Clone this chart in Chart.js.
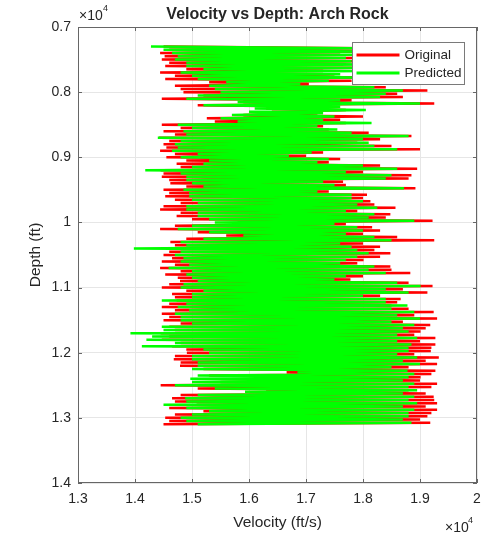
<!DOCTYPE html>
<html>
<head>
<meta charset="utf-8">
<title>Velocity vs Depth: Arch Rock</title>
<script src="https://cdn.jsdelivr.net/npm/chart.js@4.4.1/dist/chart.umd.min.js"></script>
<style>
  html, body { margin: 0; padding: 0; background: #fff; }
  #wrap { width: 500px; height: 538px; position: relative; }
</style>
</head>
<body>
<div id="wrap"><canvas id="velChart" width="500" height="538"></canvas></div>
<script>
// --- data ---
const seriesNames = ["Original", "Predicted"];

// sample depths (ft)
const depths = [
  7300, 7325, 7350, 7375, 7400, 7425, 7450, 7475,
  7500, 7525, 7550, 7575, 7600, 7625, 7650, 7675,
  7700, 7725, 7750, 7775, 7800, 7825, 7850, 7875,
  7900, 7925, 7950, 7975, 8000, 8025, 8050, 8075,
  8100, 8125, 8150, 8175, 8200, 8225, 8250, 8275,
  8300, 8325, 8350, 8375, 8400, 8425, 8450, 8475,
  8500, 8525, 8550, 8575, 8600, 8625, 8650, 8675,
  8700, 8725, 8750, 8775, 8800, 8825, 8850, 8875,
  8900, 8925, 8950, 8975, 9000, 9025, 9050, 9075,
  9100, 9125, 9150, 9175, 9200, 9225, 9250, 9275,
  9300, 9325, 9350, 9375, 9400, 9425, 9450, 9475,
  9500, 9525, 9550, 9575, 9600, 9625, 9650, 9675,
  9700, 9725, 9750, 9775, 9800, 9825, 9850, 9875,
  9900, 9925, 9950, 9975, 10000, 10025, 10050, 10075,
  10100, 10125, 10150, 10175, 10200, 10225, 10250, 10275,
  10300, 10325, 10350, 10375, 10400, 10425, 10450, 10475,
  10500, 10525, 10550, 10575, 10600, 10625, 10650, 10675,
  10700, 10725, 10750, 10775, 10800, 10825, 10850, 10875,
  10900, 10925, 10950, 10975, 11000, 11025, 11050, 11075,
  11100, 11125, 11150, 11175, 11200, 11225, 11250, 11275,
  11300, 11325, 11350, 11375, 11400, 11425, 11450, 11475,
  11500, 11525, 11550, 11575, 11600, 11625, 11650, 11675,
  11700, 11725, 11750, 11775, 11800, 11825, 11850, 11875,
  11900, 11925, 11950, 11975, 12000, 12025, 12050, 12075,
  12100, 12125, 12150, 12175, 12200, 12225, 12250, 12275,
  12300, 12325, 12350, 12375, 12400, 12425, 12450, 12475,
  12500, 12525, 12550, 12575, 12600, 12625, 12650, 12675,
  12700, 12725, 12750, 12775, 12800, 12825, 12850, 12875,
  12900, 12925, 12950, 12975, 13000, 13025, 13050, 13075,
  13100
];

// measured velocity (ft/s)
const originalVel = [
  14500, 18000, 14600, 18200, 14440, 17600, 14520, 17900,
  14470, 17900, 14600, 17650, 14530, 18100, 14900, 17300,
  14440, 17500, 14700, 18200, 14530, 17800, 15300, 17050,
  14700, 18400, 14800, 19130, 14850, 18600, 15200, 18700,
  14470, 17800, 15900, 19250, 15100, 17400, 16300, 17700,
  16400, 17200, 15900, 18000, 15260, 17600, 15400, 17700,
  14470, 17300, 14800, 17400, 14500, 18100, 14700, 18850,
  14420, 18300, 14600, 17900, 14500, 18500, 14550, 19000,
  14440, 17300, 14700, 17000, 14550, 17600, 14900, 17400,
  14730, 18300, 14800, 18950, 14450, 18000, 14500, 18850,
  14470, 18800, 14600, 17650, 14620, 17700, 14900, 18920,
  14500, 17400, 14600, 18070, 14530, 18000, 14700, 18130,
  14800, 18200, 14500, 18570, 14440, 17900, 14800, 18480,
  14730, 18400, 15000, 19220, 15800, 17700, 14700, 18160,
  14440, 18300, 15100, 18000, 15600, 18600, 14900, 19250,
  14620, 18000, 14700, 18300, 14620, 18200, 14600, 18480,
  14500, 18300, 14650, 18010, 14470, 17900, 14700, 18480,
  14440, 18500, 14800, 18830, 14530, 18000, 14750, 17780,
  14790, 18800, 14600, 19220, 14470, 18700, 14900, 19130,
  14650, 18300, 14700, 18660, 14730, 18600, 14600, 18500,
  14470, 18800, 14700, 19240, 14470, 18900, 14600, 19300,
  14500, 18700, 14800, 19180, 14600, 19100, 14700, 19010,
  14450, 18900, 14600, 19270, 14470, 19000, 14800, 19270,
  14650, 19200, 14900, 19190, 14910, 18900, 14700, 19330,
  14680, 19100, 14800, 19300, 14790, 18800, 15200, 19270,
  16660, 19200, 15300, 19010, 16550, 19000, 15500, 19300,
  14450, 19200, 15100, 18800, 16300, 19100, 14800, 19240,
  14650, 19250, 14700, 19300, 15080, 19100, 14600, 19300,
  15200, 19200, 14700, 19130, 14530, 19000, 14600, 19180,
  14500
];

// model prediction (ft/s)
const predictedVel = [
  14280, 17900, 14500, 18000, 14650, 18000, 14750, 17700,
  14700, 17800, 14900, 18100, 14900, 17900, 15200, 18000,
  14800, 17600, 15000, 17950, 15100, 17400, 15600, 16900,
  15300, 18200, 15400, 18700, 15500, 18400, 15100, 18300,
  14900, 17600, 15800, 19000, 15200, 17600, 16100, 18050,
  16000, 17300, 15700, 17500, 15500, 17300, 15800, 18150,
  14750, 17200, 15000, 17550, 14850, 17800, 14900, 18800,
  14400, 18000, 14800, 18100, 14700, 18200, 14750, 18600,
  14650, 17100, 15100, 16700, 14800, 17400, 15300, 17200,
  15200, 18000, 15000, 18600, 14180, 17700, 14800, 18500,
  14900, 18400, 14900, 17300, 15000, 17500, 15200, 18720,
  14850, 17200, 14950, 17800, 14950, 17800, 15000, 18000,
  15100, 17900, 14900, 18250, 14900, 17700, 15100, 18200,
  15100, 18100, 15300, 18900, 15400, 17500, 15000, 17900,
  14750, 18000, 15300, 17700, 15900, 18200, 15200, 18500,
  14800, 17600, 14900, 17800, 13980, 17900, 14800, 18100,
  14700, 17900, 14850, 17700, 14800, 17600, 14950, 18200,
  14590, 18100, 15000, 18400, 14900, 17700, 15000, 17500,
  15100, 18600, 14850, 19010, 14800, 18400, 15200, 18800,
  15000, 18000, 15000, 18400, 14470, 18400, 14900, 18780,
  14750, 18500, 14950, 18900, 14700, 18600, 14800, 19000,
  14800, 18500, 15000, 18900, 14470, 18700, 14500, 18800,
  13920, 18600, 14300, 18950, 14200, 18600, 14700, 18850,
  14120, 18800, 15200, 18800, 15300, 18600, 15000, 18950,
  15000, 18700, 15100, 19000, 15100, 18500, 15000, 18780,
  16850, 18900, 15100, 18800, 14970, 18700, 15000, 18900,
  14700, 18800, 15400, 18950, 15930, 18700, 15100, 18900,
  14880, 18800, 14900, 18950, 14500, 18700, 14900, 18900,
  15300, 18800, 15000, 18800, 14800, 18700, 14900, 18850,
  15100
];

// axis ticks
const xTickValues = [13000, 14000, 15000, 16000, 17000, 18000, 19000, 20000];
const yTickValues = [7000, 8000, 9000, 10000, 11000, 12000, 13000, 14000];

const RED = "#ff0000";
const GREEN = "#00ff00";
const TEXT = "#262626";
const FONT = "'Liberation Sans', Arial, Helvetica, sans-serif";

function toPoints(vals) {
  return vals.map((v, i) => ({ x: v, y: depths[i] }));
}

// MATLAB style frame, title, axis labels, exponent marks and legend
const matlabFrame = {
  id: "matlabFrame",
  afterDraw(chart) {
    const { ctx, chartArea: a, scales } = chart;
    ctx.save();

    // box
    ctx.strokeStyle = "#666";
    ctx.lineWidth = 1;
    ctx.strokeRect(a.left + 0.5, a.top + 0.5, a.right - a.left - 1, a.bottom - a.top - 1);

    // inward tick marks on all four sides
    ctx.beginPath();
    xTickValues.forEach((v) => {
      const px = Math.round(scales.x.getPixelForValue(v)) + 0.5;
      ctx.moveTo(px, a.bottom); ctx.lineTo(px, a.bottom - 4);
      ctx.moveTo(px, a.top); ctx.lineTo(px, a.top + 4);
    });
    yTickValues.forEach((v) => {
      const py = Math.round(scales.y.getPixelForValue(v)) + 0.5;
      ctx.moveTo(a.left, py); ctx.lineTo(a.left + 4, py);
      ctx.moveTo(a.right, py); ctx.lineTo(a.right - 4, py);
    });
    ctx.stroke();

    ctx.fillStyle = TEXT;

    // title
    ctx.font = "bold 16px " + FONT;
    ctx.textAlign = "center";
    ctx.textBaseline = "alphabetic";
    ctx.fillText("Velocity vs Depth: Arch Rock", (a.left + a.right) / 2, 19);

    // axis titles
    ctx.font = "15.5px " + FONT;
    ctx.fillText("Velocity (ft/s)", (a.left + a.right) / 2, 527);
    ctx.save();
    ctx.translate(40, (a.top + a.bottom) / 2);
    ctx.rotate(-Math.PI / 2);
    ctx.fillText("Depth (ft)", 0, 0);
    ctx.restore();

    // x10^4 exponent labels
    ctx.textAlign = "left";
    ctx.font = "14px " + FONT;
    ctx.fillText("\u00d710", a.left + 1, 20);
    ctx.fillText("\u00d710", a.right - 32, 532);
    ctx.font = "9px " + FONT;
    ctx.fillText("4", a.left + 25, 11);
    ctx.fillText("4", a.right - 9, 523);

    // legend box
    const lx = a.right - 124.5, ly = a.top + 15.5, lw = 112, lh = 42;
    ctx.fillStyle = "#fff";
    ctx.fillRect(lx, ly, lw, lh);
    ctx.strokeStyle = "#7a7a7a";
    ctx.strokeRect(lx, ly, lw, lh);
    ctx.font = "13.5px " + FONT;
    ctx.textBaseline = "middle";
    [RED, GREEN].forEach((c, i) => {
      const yy = ly + 12.5 + i * 18;
      ctx.strokeStyle = c;
      ctx.lineWidth = 3;
      ctx.beginPath();
      ctx.moveTo(lx + 4, yy);
      ctx.lineTo(lx + 47, yy);
      ctx.stroke();
      ctx.fillStyle = TEXT;
      ctx.fillText(seriesNames[i], lx + 52, yy);
    });

    ctx.restore();
  },
};

const tickLabel = (v) => String(+(v / 10000).toFixed(1));

new Chart(document.getElementById("velChart"), {
  type: "scatter",
  data: {
    datasets: [
      {
        label: seriesNames[0],
        data: toPoints(originalVel),
        borderColor: RED,
        backgroundColor: RED,
        borderWidth: 2.5,
        showLine: true,
        pointRadius: 0,
        tension: 0,
        order: 1,
      },
      {
        label: seriesNames[1],
        data: toPoints(predictedVel),
        borderColor: GREEN,
        backgroundColor: GREEN,
        borderWidth: 2.5,
        showLine: true,
        pointRadius: 0,
        tension: 0,
        order: 0,
      },
    ],
  },
  options: {
    responsive: false,
    animation: false,
    devicePixelRatio: 1,
    layout: { padding: { top: 27, right: 23, left: 0, bottom: 0 } },
    plugins: {
      legend: { display: false },
      tooltip: { enabled: false },
      title: { display: false },
    },
    scales: {
      x: {
        type: "linear",
        min: 13000,
        max: 20000,
        afterBuildTicks: (s) => { s.ticks = xTickValues.map((v) => ({ value: v })); },
        afterFit: (s) => { s.height = 55; },
        grid: { color: "#e6e6e6", drawTicks: false },
        border: { display: false },
        ticks: {
          callback: tickLabel,
          color: TEXT,
          padding: 8,
          maxRotation: 0,
          font: { family: FONT, size: 14 },
        },
      },
      y: {
        type: "linear",
        reverse: true,
        min: 7000,
        max: 14000,
        afterBuildTicks: (s) => { s.ticks = yTickValues.map((v) => ({ value: v })); },
        afterFit: (s) => { s.width = 78; },
        grid: { color: "#e6e6e6", drawTicks: false },
        border: { display: false },
        ticks: {
          callback: tickLabel,
          color: TEXT,
          padding: 7,
          font: { family: FONT, size: 14 },
        },
      },
    },
  },
  plugins: [matlabFrame],
});
</script>
</body>
</html>
